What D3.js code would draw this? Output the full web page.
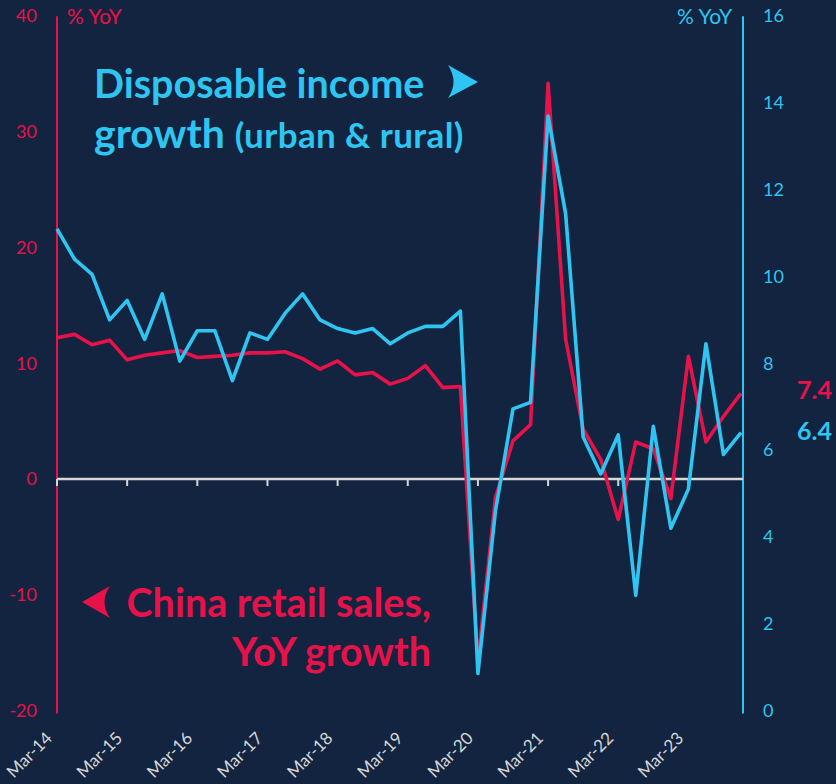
<!DOCTYPE html>
<html>
<head>
<meta charset="utf-8">
<script src="https://cdn.jsdelivr.net/npm/d3@7"></script>
<style>
  html, body { margin: 0; padding: 0; background: #12243f; }
  svg { display: block; }
  text { font-family: Lato, "Open Sans", sans-serif; }
</style>
</head>
<body>
<svg id="chart" width="836" height="784"></svg>
<script>
// ---- data ----
const quarters = ["Mar-14","Jun-14","Sep-14","Dec-14","Mar-15","Jun-15","Sep-15","Dec-15",
  "Mar-16","Jun-16","Sep-16","Dec-16","Mar-17","Jun-17","Sep-17","Dec-17",
  "Mar-18","Jun-18","Sep-18","Dec-18","Mar-19","Jun-19","Sep-19","Dec-19",
  "Mar-20","Jun-20","Sep-20","Dec-20","Mar-21","Jun-21","Sep-21","Dec-21",
  "Mar-22","Jun-22","Sep-22","Dec-22","Mar-23","Jun-23","Sep-23","Dec-23"];
const retailSales = [12.2,12.5,11.6,12.0,10.3,10.7,10.9,11.1,10.5,10.6,10.7,10.9,10.9,11.0,10.4,9.5,
  10.2,9.0,9.2,8.2,8.7,9.8,7.9,8.0,-15.8,-1.6,3.3,4.7,34.2,12.1,4.3,1.7,-3.5,3.2,2.6,-1.7,10.6,3.2,5.4,7.4];
const disposableIncome = [11.1,10.4,10.05,9.0,9.45,8.55,9.6,8.05,8.75,8.75,7.6,8.7,8.55,9.15,9.6,9.0,
  8.8,8.7,8.8,8.45,8.7,8.85,8.85,9.2,0.85,4.6,6.95,7.1,13.7,11.45,6.3,5.45,6.35,2.65,6.55,4.2,5.1,8.45,5.9,6.4];
const xTickLabels = ["Mar-14","Mar-15","Mar-16","Mar-17","Mar-18","Mar-19","Mar-20","Mar-21","Mar-22","Mar-23"];
const leftTicks = [-20,-10,0,10,20,30,40];
const rightTicks = [0,2,4,6,8,10,12,14,16];

// ---- styles ----
const RED = "#e8124a";
const BLUE = "#2ec5f2";
const GREY = "#d6d6d6";

const svg = d3.select("#chart");
const plotLeft = 57, plotRight = 743, plotTop = 16.2, plotBottom = 710.4;

const x = d3.scaleLinear().domain([0, quarters.length - 1]).range([plotLeft, 741]);
const yL = d3.scaleLinear().domain([-20, 40]).range([plotBottom, plotTop]);
const yR = d3.scaleLinear().domain([0, 16]).range([plotBottom, plotTop]);

// left axis
const gL = svg.append("g").attr("transform", `translate(${plotLeft},0)`)
  .call(d3.axisLeft(yL).tickValues(leftTicks).tickSize(0).tickPadding(20).tickFormat(d => String(d)));
gL.select(".domain").remove();
gL.selectAll("text").attr("fill", RED).attr("font-size", 18).attr("font-family", "Lato, sans-serif");
svg.append("line").attr("x1", plotLeft).attr("x2", plotLeft).attr("y1", plotTop).attr("y2", plotBottom + 3)
  .attr("stroke", RED).attr("stroke-width", 2);

// right axis
const gR = svg.append("g").attr("transform", `translate(${plotRight},0)`)
  .call(d3.axisRight(yR).tickValues(rightTicks).tickSize(0).tickPadding(20).tickFormat(d => String(d)));
gR.select(".domain").remove();
gR.selectAll("text").attr("fill", BLUE).attr("font-size", 18).attr("font-family", "Lato, sans-serif");
svg.append("line").attr("x1", plotRight).attr("x2", plotRight).attr("y1", plotTop).attr("y2", plotBottom + 3)
  .attr("stroke", BLUE).attr("stroke-width", 2);

// unit labels
svg.append("text").attr("x", 67).attr("y", 24).attr("fill", RED).attr("font-size", 21).text("% YoY");
svg.append("text").attr("x", 732).attr("y", 24).attr("fill", BLUE).attr("font-size", 21)
  .attr("text-anchor", "end").text("% YoY");

// zero line with ticks
const y0 = yL(0);
svg.append("line").attr("x1", plotLeft).attr("x2", plotRight).attr("y1", y0).attr("y2", y0)
  .attr("stroke", GREY).attr("stroke-width", 2.5);
const tickIdx = xTickLabels.map(l => quarters.indexOf(l));
svg.selectAll(".xtick").data(tickIdx).join("line").attr("class", "xtick")
  .attr("x1", d => x(d)).attr("x2", d => x(d)).attr("y1", y0).attr("y2", y0 + 7)
  .attr("stroke", GREY).attr("stroke-width", 2);

// x labels (rotated)
svg.selectAll(".xlab").data(xTickLabels).join("text").attr("class", "xlab")
  .attr("transform", d => `translate(${x(quarters.indexOf(d)) - 8},${735}) rotate(-45)`)
  .attr("text-anchor", "end").attr("dy", "0.35em")
  .attr("fill", GREY).attr("font-size", 17).text(d => d);

// lines
const lineR = d3.line().x((d, i) => x(i)).y(d => yL(d));
const lineB = d3.line().x((d, i) => x(i)).y(d => yR(d));
svg.append("path").datum(retailSales).attr("d", lineR).attr("fill", "none")
  .attr("stroke", RED).attr("stroke-width", 3.6).attr("stroke-linejoin", "round");
svg.append("path").datum(disposableIncome).attr("d", lineB).attr("fill", "none")
  .attr("stroke", BLUE).attr("stroke-width", 3.6).attr("stroke-linejoin", "round");

// end labels
svg.append("text").attr("x", 832).attr("y", 399).attr("text-anchor", "end")
  .attr("fill", RED).attr("font-size", 25).attr("font-weight", "bold")
  .text(d3.format(".1f")(retailSales[retailSales.length - 1]));
svg.append("text").attr("x", 832).attr("y", 440).attr("text-anchor", "end")
  .attr("fill", BLUE).attr("font-size", 25).attr("font-weight", "bold")
  .text(d3.format(".1f")(disposableIncome[disposableIncome.length - 1]));

// annotations
svg.append("text").attr("x", 94).attr("y", 98).attr("fill", BLUE)
  .attr("font-size", 39.5).attr("font-weight", "bold").text("Disposable income");
const t2 = svg.append("text").attr("x", 94).attr("y", 148).attr("fill", BLUE)
  .attr("font-weight", "bold");
t2.append("tspan").attr("font-size", 41).text("growth ");
t2.append("tspan").attr("font-size", 35).attr("letter-spacing", 0.4).text("(urban & rural)");
svg.append("path").attr("d", "M448,65 L478,82 L448,98 Q459,82 448,65 Z").attr("fill", BLUE);

svg.append("text").attr("x", 431).attr("y", 617).attr("text-anchor", "end").attr("fill", RED)
  .attr("font-size", 39.5).attr("font-weight", "bold").text("China retail sales,");
svg.append("text").attr("x", 431).attr("y", 666).attr("text-anchor", "end").attr("fill", RED)
  .attr("font-size", 39.5).attr("font-weight", "bold").text("YoY growth");
svg.append("path").attr("d", "M110,586 L82,602 L110,618 Q99,602 110,586 Z").attr("fill", RED);
</script>
</body>
</html>
